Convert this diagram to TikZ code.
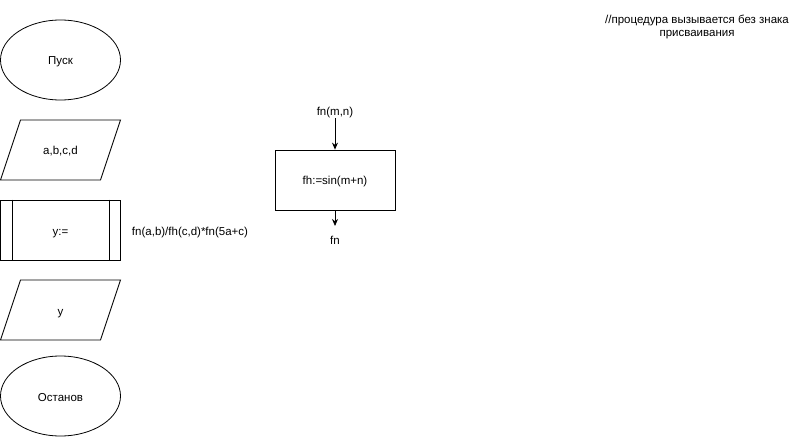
\documentclass[tikz,border=0pt]{standalone}
\usepackage{fontspec}
\setmainfont{Liberation Sans}
\usetikzlibrary{shapes.geometric,arrows.meta}

\begin{document}
\begin{tikzpicture}[x=1pt,y=-1pt, line width=0.8pt,
	every node/.style={font=\fontsize{11.5}{13.5}\selectfont, inner sep=2pt, text height=10pt, text depth=0pt},
	terminal/.style={draw, ellipse, minimum width=120pt, minimum height=80pt, inner sep=0pt},
	block/.style={draw, rectangle, minimum width=120pt, minimum height=60pt, inner sep=0pt},
	flow/.style={-{Stealth[length=7pt,width=6pt]}}]
	\useasboundingbox (0,0) rectangle (801,441);
	% main scheme
	\node [terminal] (start) at (60.5,60) {Пуск};
	\draw (0.5,180) -- (20.5,120) -- (120.5,120) -- (100.5,180) -- cycle;
	\node (input) at (60.5,150) {a,b,c,d};
	\node [block] (call) at (60.5,230) {y:=};
	\draw ([xshift=12pt]call.north west) -- ([xshift=12pt]call.south west);
	\draw ([xshift=-12pt]call.north east) -- ([xshift=-12pt]call.south east);
	\node (expr) at (190,231) {fn(a,b)/fh(c,d)*fn(5a+c)};
	\draw (0.5,340) -- (20.5,280) -- (120.5,280) -- (100.5,340) -- cycle;
	\node (output) at (60.5,310) {y};
	\node [terminal] (stop) at (60.5,396) {Останов};
	% function
	\node (fnin) at (335,111) {fn(m,n)};
	\node [block] (body) at (335,180) {fh:=sin(m+n)};
	\coordinate (fnend) at (335,226);
	\node (fnout) at (335,239) {fn};
	\draw [flow] (fnin) -- (body);
	\draw [flow] (body) -- (fnend);
	% note
	\node [align=center, text height=, text depth=] (note) at (697,27) {//процедура вызывается без знака\\присваивания};
\end{tikzpicture}
\end{document}
